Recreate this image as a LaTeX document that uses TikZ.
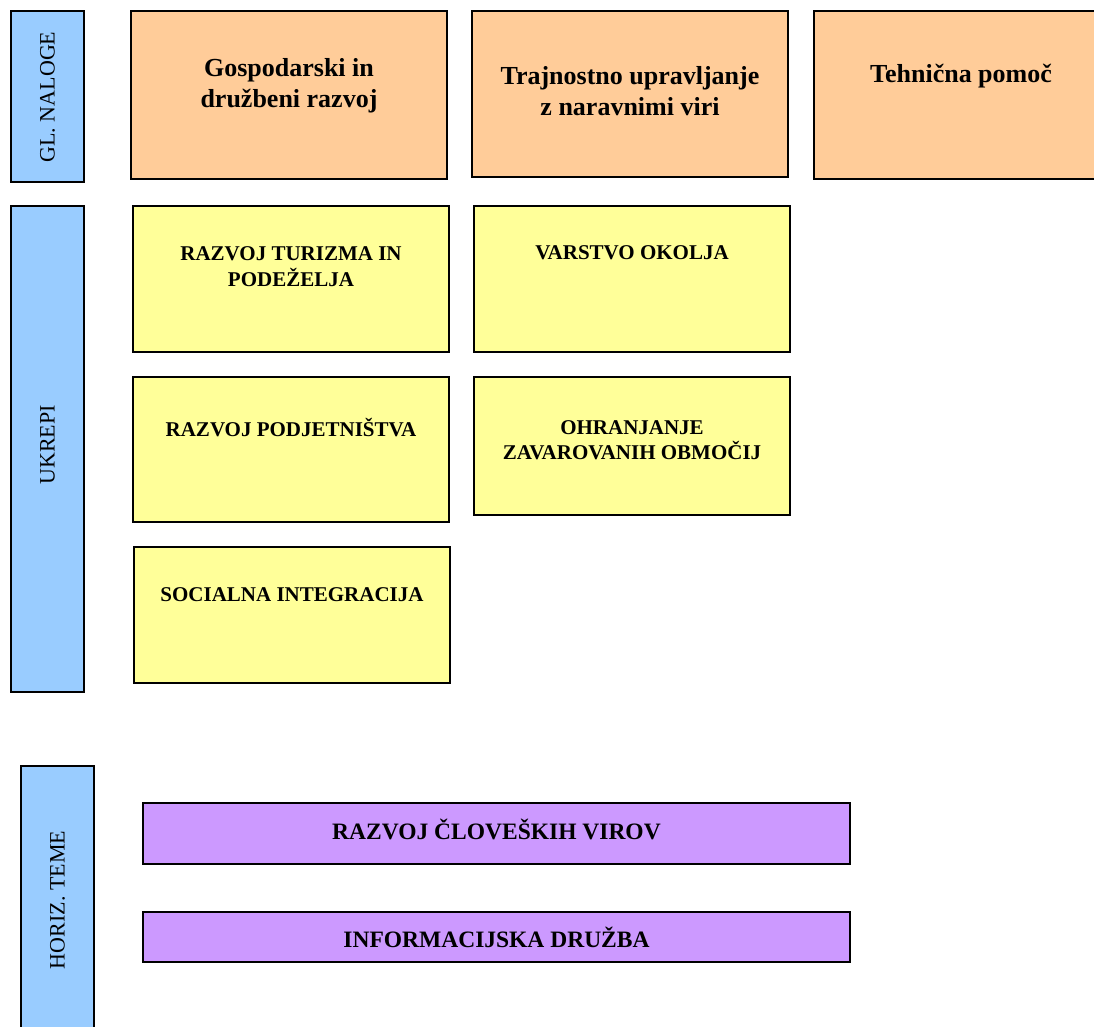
\documentclass[tikz,border=0pt]{standalone}
\usepackage{fontspec}
\setmainfont{Liberation Serif}
\definecolor{bluebox}{HTML}{99CCFF}
\definecolor{orangebox}{HTML}{FFCC99}
\definecolor{yellowbox}{HTML}{FFFF99}
\definecolor{purplebox}{HTML}{CC99FF}
\tikzset{
  box/.style={draw=black, line width=1.4pt, anchor=north west, inner sep=0pt, outer sep=0pt},
  sidebox/.style={box, fill=bluebox},
  taskbox/.style={box, fill=orangebox},
  measbox/.style={box, fill=yellowbox},
  themebox/.style={box, fill=purplebox},
  sidetext/.style={rotate=90, font=\fontsize{22}{26}\selectfont},
  tasktext/.style={align=center, font=\fontsize{26}{31}\selectfont\bfseries},
  meastext/.style={align=center, font=\fontsize{21}{25.5}\selectfont\bfseries},
  themetext/.style={align=center, font=\fontsize{23.5}{28}\selectfont\bfseries},
}
\begin{document}
\begin{tikzpicture}[x=1pt,y=-1pt]
\useasboundingbox (0,0) rectangle (1094,1026);
% side label boxes
\node[sidebox, minimum width=73pt, minimum height=171pt] (gl) at (11,11) {};
\node[sidebox, minimum width=73pt, minimum height=486pt] (uk) at (11,206) {};
\node[sidebox, minimum width=73pt, minimum height=280pt] (hz) at (21,766) {};
\node[sidetext] (glt) at (47.5,97) {GL. NALOGE};
\node[sidetext] (ukt) at (47.5,445) {UKREPI};
\node[sidetext] (hzt) at (57.5,900) {HORIZ. TEME};
% main tasks
\node[taskbox, minimum width=316pt, minimum height=168pt] (t1) at (131,11) {};
\node[taskbox, minimum width=316pt, minimum height=166pt] (t2) at (472,11) {};
\node[taskbox, minimum width=300pt, minimum height=168pt] (t3) at (814,11) {};
\node[tasktext] (t1t) at (289,85.5) {Gospodarski in\\družbeni razvoj};
\node[tasktext] (t2t) at (630,91) {Trajnostno upravljanje\\z naravnimi viri};
\node[tasktext] (t3t) at (961,76) {Tehnična pomoč};
% measures
\node[measbox, minimum width=316pt, minimum height=146pt] (m1) at (133,206) {};
\node[measbox, minimum width=316pt, minimum height=145pt] (m2) at (133,377) {};
\node[measbox, minimum width=316pt, minimum height=136pt] (m3) at (134,547) {};
\node[measbox, minimum width=316pt, minimum height=146pt] (m4) at (474,206) {};
\node[measbox, minimum width=316pt, minimum height=138pt] (m5) at (474,377) {};
\node[meastext] (m1t) at (291,266.5) {RAZVOJ TURIZMA IN\\PODEŽELJA};
\node[meastext] (m2t) at (291,428) {RAZVOJ PODJETNIŠTVA};
\node[meastext] (m3t) at (292,595) {SOCIALNA INTEGRACIJA};
\node[meastext] (m4t) at (632,253) {VARSTVO OKOLJA};
\node[meastext] (m5t) at (632,440) {OHRANJANJE\\ZAVAROVANIH OBMOČIJ};
% horizontal themes
\node[themebox, minimum width=707pt, minimum height=61pt] (h1) at (143,803) {};
\node[themebox, minimum width=707pt, minimum height=50pt] (h2) at (143,912) {};
\node[themetext] (h1t) at (496.5,829) {RAZVOJ ČLOVEŠKIH VIROV};
\node[themetext] (h2t) at (496.5,937) {INFORMACIJSKA DRUŽBA};
\end{tikzpicture}
\end{document}
